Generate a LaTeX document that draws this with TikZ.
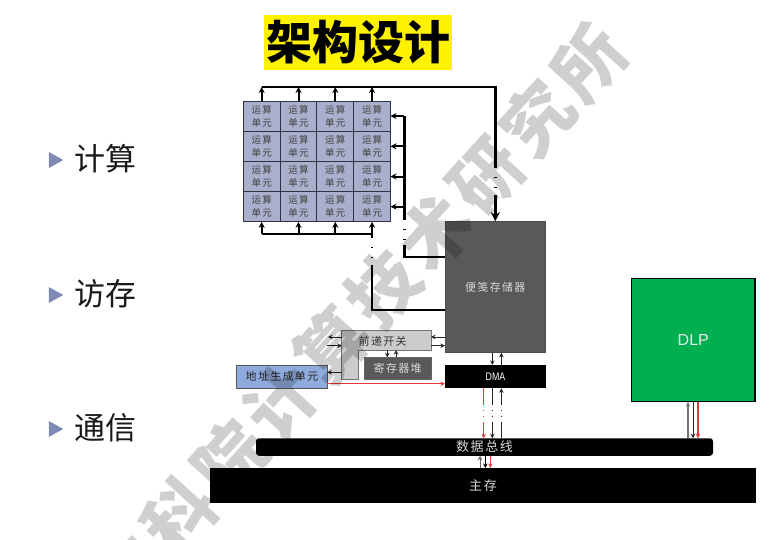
\documentclass[tikz,border=0pt]{standalone}
\usepackage{tikz}
\usepackage{xcolor}
\usepackage{fontspec}
\usetikzlibrary{shapes.geometric, arrows.meta, positioning}
\newfontfamily\cjk{Noto Sans CJK SC}
\newfontfamily\cjkwide[LetterSpace=12]{Noto Sans CJK SC}
\newfontfamily\cjkmark[LetterSpace=9]{Noto Sans CJK SC}
\setsansfont{Liberation Sans}
\definecolor{cellblue}{HTML}{A9AFCC}
\definecolor{celledge}{HTML}{2F3444}
\definecolor{boxgray}{HTML}{595959}
\definecolor{switchgray}{HTML}{CCCCCC}
\definecolor{agublue}{HTML}{8FAADC}
\definecolor{dlpgreen}{HTML}{00B050}
\definecolor{markgray}{HTML}{CFCFCF}
\definecolor{bulletblue}{HTML}{7F89B5}
\definecolor{wirered}{HTML}{E03A3A}
\tikzstyle{cell} = [rectangle, minimum width=36.8pt, minimum height=30.2pt, inner sep=0pt, outer sep=0pt, align=center, draw=celledge, line width=1pt, fill=cellblue, text=black!75, font=\cjkwide\fontsize{9.5}{13}\selectfont]
\tikzstyle{block} = [rectangle, inner sep=0pt, outer sep=0pt, align=center, font=\cjkwide\fontsize{11}{14}\selectfont]
\tikzstyle{bullet} = [isosceles triangle, isosceles triangle apex angle=58, minimum height=9pt, minimum width=16pt, inner sep=0pt, fill=bulletblue]
\tikzstyle{item} = [font=\cjk\fontsize{31}{34}\selectfont, text=black!90, inner sep=0pt]
\tikzstyle{heavy} = [line width=2.4pt]
\tikzstyle{heavyarrow} = [line width=2pt,-{Stealth[length=6pt,width=6pt]}]
\tikzstyle{arrow} = [line width=0.9pt,-{Stealth[length=4.5pt,width=4.5pt]},draw=black!85]
\tikzstyle{redarrow} = [line width=1pt,-{Stealth[length=4.5pt,width=4.5pt]},draw=wirered]
\tikzstyle{pale} = [white, line width=2.8pt, dash pattern=on 9pt off 1pt]
\tikzstyle{palethin} = [white, line width=1.6pt, dash pattern=on 5pt off 1pt]

\begin{document}
\begin{tikzpicture}[x=1pt, y=-1pt, node distance=0pt]
\useasboundingbox (0,0) rectangle (781,539);
\clip (0,0) rectangle (781,539);
\fill [white] (0,0) rectangle (781,539);

% Title
\node (title) [rectangle, fill=yellow, minimum width=188pt, minimum height=55pt, inner sep=0pt, font=\cjk\bfseries\fontsize{46}{50}\selectfont] at (358,42.5) {架构设计};

% Left list
\node (bullet-calc) [bullet] at (53.5,160) {};
\node (bullet-mem) [bullet] at (53.5,295) {};
\node (bullet-comm) [bullet] at (53.5,429) {};
\node (item-calc) [item] at (105,159) {计算};
\node (item-mem) [item] at (105,294) {访存};
\node (item-comm) [item] at (105,428) {通信};

% Grid
\node (c11) [cell] at (261.7,116.1) {运算\\单元};
\node (c12) [cell, right=of c11] {运算\\单元};
\node (c13) [cell, right=of c12] {运算\\单元};
\node (c14) [cell, right=of c13] {运算\\单元};
\node (c21) [cell, below=of c11] {运算\\单元};
\node (c22) [cell, right=of c21] {运算\\单元};
\node (c23) [cell, right=of c22] {运算\\单元};
\node (c24) [cell, right=of c23] {运算\\单元};
\node (c31) [cell, below=of c21] {运算\\单元};
\node (c32) [cell, right=of c31] {运算\\单元};
\node (c33) [cell, right=of c32] {运算\\单元};
\node (c34) [cell, right=of c33] {运算\\单元};
\node (c41) [cell, below=of c31] {运算\\单元};
\node (c42) [cell, right=of c41] {运算\\单元};
\node (c43) [cell, right=of c42] {运算\\单元};
\node (c44) [cell, right=of c43] {运算\\单元};

% Memory side
\node (scratch) [block, fill=boxgray, draw=black!70, line width=0.8pt, minimum width=100.7pt, minimum height=131.7pt, text=black!15] at (495.3,287) {便笺存储器};
\node (dma) [block, fill=black, minimum width=101pt, minimum height=23.3pt, text=white, font=\sffamily\fontsize{11}{12}\selectfont] at (495.5,376.6) {\scalebox{0.8}[1]{DMA}};
\node (regfile) [block, fill=boxgray, draw=black!60, line width=0.6pt, minimum width=66.7pt, minimum height=21.7pt, text=black!15] at (397.7,368.2) {寄存器堆};
\node (agu) [block, fill=agublue, draw=black!65, line width=0.8pt, minimum width=90.6pt, minimum height=23.3pt, text=black!85] at (282,376.6) {地址生成单元};

% Forwarding switch
\draw [fill=switchgray, draw=black!55, line width=0.8pt] (341.7,330.7) -- (431,330.7) -- (431,350) -- (358.3,350) -- (358.3,379) -- (341.7,379) -- cycle;
\node (switch) [block, text=black!80] at (382.7,341) {前递开关};
\coordinate (switch-r1) at (431,337);
\coordinate (switch-r2) at (431,345.7);
\coordinate (switch-l1) at (341.7,337);
\coordinate (switch-l2) at (341.7,345.7);
\coordinate (switch-l3) at (341.7,372.3);
\coordinate (free-l1) at (328,337);
\coordinate (free-l2) at (327,345.7);
\coordinate (switch-b1) at (387.3,350);
\coordinate (switch-b2) at (396,350);

% Buses
\node (databus) [block, fill=black, rounded corners=3pt, minimum width=457pt, minimum height=17.5pt, text=black!15, font=\cjkwide\fontsize{13}{15}\selectfont] at (484.5,447) {数据总线};
\node (mainmem) [block, fill=black, minimum width=546pt, minimum height=35pt, text=black!15, font=\cjkwide\fontsize{13}{15}\selectfont] at (483,485.5) {主存};
\node (dlp) [block, fill=dlpgreen, draw=black, line width=1.2pt, minimum width=123.3pt, minimum height=123.7pt, text=black!8, font=\sffamily\fontsize{16}{18}\selectfont] at (693.3,340) {DLP};

% Thick wires
\coordinate (top-left) at (261.7,87);
\coordinate (rail-top) at (404.3,116.1);
\coordinate (low-bus) at (261.7,234);
\coordinate (scratch-a) at (445,256.7);
\coordinate (scratch-b) at (445,310);
\draw [heavy, -{Stealth[length=9pt,width=9pt]}] (top-left) -- (top-left -| scratch.north) -- (scratch.north);
\draw [heavyarrow] (c11.north) -- (c11.north |- top-left);
\draw [heavyarrow] (c12.north) -- (c12.north |- top-left);
\draw [heavyarrow] (c13.north) -- (c13.north |- top-left);
\draw [heavyarrow] (c14.north) -- (c14.north |- top-left);
\draw [heavy] (rail-top) |- (scratch-a);
\draw [heavyarrow] (rail-top |- c14.east) -- (c14.east);
\draw [heavyarrow] (rail-top |- c24.east) -- (c24.east);
\draw [heavyarrow] (rail-top |- c34.east) -- (c34.east);
\draw [heavyarrow] (rail-top |- c44.east) -- (c44.east);
\draw [heavy] (low-bus) -- (low-bus -| c44.south) |- (scratch-b);
\draw [heavyarrow] (c41.south |- low-bus) -- (c41.south);
\draw [heavyarrow] (c42.south |- low-bus) -- (c42.south);
\draw [heavyarrow] (c43.south |- low-bus) -- (c43.south);
\draw [heavyarrow] (c44.south |- low-bus) -- (c44.south);

% Thin wires
\draw [arrow] (switch-l1) -- (free-l1);
\draw [arrow] (free-l2) -- (switch-l2);
\draw [arrow] (scratch.west |- switch-r1) -- (switch-r1);
\draw [arrow] (switch-r2) -- (scratch.west |- switch-r2);
\draw [arrow] (switch-b1) -- (switch-b1 |- regfile.north);
\draw [arrow] (switch-b2 |- regfile.north) -- (switch-b2);
\draw [arrow] (switch-l3) -- (agu.east |- switch-l3);
\coordinate (agu-out) at (327.3,383.7);
\draw [redarrow] (agu-out) -- (agu-out -| dma.west);

\coordinate (dma-a) at (483.7,388.3);
\coordinate (dma-b) at (492.3,388.3);
\coordinate (dma-c) at (501.3,388.3);
\draw [arrow] (dma-b |- scratch.south) -- (dma-b |- dma.north);
\draw [arrow] (dma-c |- dma.north) -- (dma-c |- scratch.south);
\draw [redarrow] (dma-a) -- (dma-a |- databus.north);
\draw [arrow] (dma-b) -- (dma-b |- databus.north);
\draw [arrow] (dma-c |- databus.north) -- (dma-c);

\coordinate (main-a) at (480,468);
\coordinate (main-b) at (485.3,468);
\coordinate (main-c) at (490.3,468);
\draw [arrow, draw=black!60] (main-a) -- (main-a |- databus.south);
\draw [arrow, draw=black, line width=1.1pt] (main-b |- databus.south) -- (main-b);
\draw [redarrow] (main-c |- databus.south) -- (main-c);

\coordinate (dlp-a) at (688,401.8);
\coordinate (dlp-b) at (693,401.8);
\coordinate (dlp-c) at (698,401.8);
\draw [arrow, draw=black!55, line width=1.2pt] (dlp-a |- databus.north) -- (dlp-a);
\draw [arrow, line width=1pt] (dlp-b) -- (dlp-b |- databus.north);
\draw [redarrow, line width=1.2pt] (dlp-c) -- (dlp-c |- databus.north);

% Pale stretches of the wires
\coordinate (pale-a) at (495.3,168);
\coordinate (pale-b) at (495.3,195);
\coordinate (pale-c) at (404.3,220);
\coordinate (pale-d) at (404.3,245);
\coordinate (pale-e) at (372,238);
\coordinate (pale-f) at (372,265);
\coordinate (pale-g) at (483.7,405);
\coordinate (pale-h) at (501.3,405);
\coordinate (pale-i) at (483.7,422);
\coordinate (pale-j) at (501.3,422);
\draw [pale] (pale-a) -- (pale-b);
\draw [pale] (pale-c) -- (pale-d);
\draw [pale] (pale-e) -- (pale-f);
\draw [palethin] (pale-g) -- (pale-i);
\draw [palethin] (pale-g -| dma-b) -- (pale-i -| dma-b);
\draw [palethin] (pale-h) -- (pale-j);

% Watermark
\begin{scope}[blend mode=multiply]
\node (stamp) [rotate=47.9, text=markgray, inner sep=0pt, font=\cjkmark\bfseries\fontsize{70}{74}\selectfont] at (358,317) {中科院计算技术研究所};
\end{scope}

\end{tikzpicture}
\end{document}
